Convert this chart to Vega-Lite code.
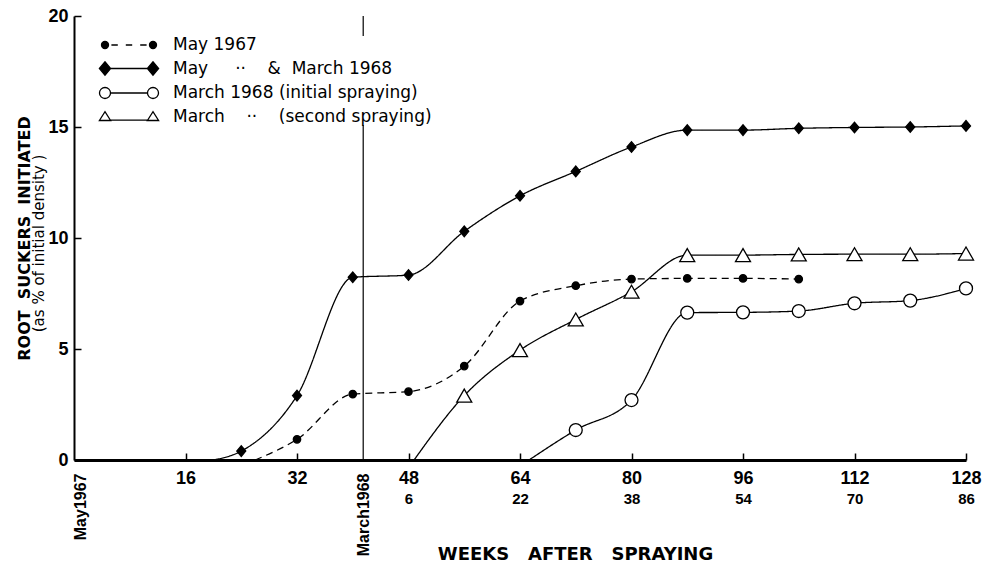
{
  "$schema": "https://vega.github.io/schema/vega-lite/v6.json",
  "width": 892,
  "height": 444,
  "autosize": "none",
  "padding": {"left": 74, "top": 16, "right": 19, "bottom": 106},
  "background": "white",
  "config": {
    "view": {"stroke": null},
    "axis": {"labelFont": "Liberation Sans", "titleFont": "Liberation Sans", "labelColor": "black", "titleColor": "black", "domainColor": "black", "tickColor": "black", "grid": false, "labelFlush": false, "labelOverlap": false},
    "legend": {"orient": "none", "legendX": 46, "legendY": 20, "title": null, "padding": 0, "labelFont": "DejaVu Sans", "labelFontSize": 17, "labelColor": "black", "labelOffset": 35, "labelLimit": 500, "rowPadding": 5.5, "fillColor": "white", "symbolSize": 256, "symbolStrokeWidth": 1.3, "symbolStrokeColor": "black", "symbolOpacity": 1}
  },
  "datasets": {
    "series": [
      {"series": "May 1967", "week": 26, "value": 0, "observed": false},
      {"series": "May 1967", "week": 32, "value": 0.93, "observed": true},
      {"series": "May 1967", "week": 40, "value": 2.97, "observed": true},
      {"series": "May 1967", "week": 48, "value": 3.08, "observed": true},
      {"series": "May 1967", "week": 56, "value": 4.23, "observed": true},
      {"series": "May 1967", "week": 64, "value": 7.16, "observed": true},
      {"series": "May 1967", "week": 72, "value": 7.85, "observed": true},
      {"series": "May 1967", "week": 80, "value": 8.15, "observed": true},
      {"series": "May 1967", "week": 88, "value": 8.18, "observed": true},
      {"series": "May 1967", "week": 96, "value": 8.18, "observed": true},
      {"series": "May 1967", "week": 104, "value": 8.15, "observed": true},
      {"series": "May\u00a0\u00a0\u00a0\u00a0\u00a0··\u00a0\u00a0\u00a0\u00a0&\u00a0\u00a0March 1968", "week": 20, "value": 0, "observed": false},
      {"series": "May\u00a0\u00a0\u00a0\u00a0\u00a0··\u00a0\u00a0\u00a0\u00a0&\u00a0\u00a0March 1968", "week": 24, "value": 0.4, "observed": true},
      {"series": "May\u00a0\u00a0\u00a0\u00a0\u00a0··\u00a0\u00a0\u00a0\u00a0&\u00a0\u00a0March 1968", "week": 32, "value": 2.9, "observed": true},
      {"series": "May\u00a0\u00a0\u00a0\u00a0\u00a0··\u00a0\u00a0\u00a0\u00a0&\u00a0\u00a0March 1968", "week": 40, "value": 8.23, "observed": true},
      {"series": "May\u00a0\u00a0\u00a0\u00a0\u00a0··\u00a0\u00a0\u00a0\u00a0&\u00a0\u00a0March 1968", "week": 48, "value": 8.33, "observed": true},
      {"series": "May\u00a0\u00a0\u00a0\u00a0\u00a0··\u00a0\u00a0\u00a0\u00a0&\u00a0\u00a0March 1968", "week": 56, "value": 10.3, "observed": true},
      {"series": "May\u00a0\u00a0\u00a0\u00a0\u00a0··\u00a0\u00a0\u00a0\u00a0&\u00a0\u00a0March 1968", "week": 64, "value": 11.9, "observed": true},
      {"series": "May\u00a0\u00a0\u00a0\u00a0\u00a0··\u00a0\u00a0\u00a0\u00a0&\u00a0\u00a0March 1968", "week": 72, "value": 13.0, "observed": true},
      {"series": "May\u00a0\u00a0\u00a0\u00a0\u00a0··\u00a0\u00a0\u00a0\u00a0&\u00a0\u00a0March 1968", "week": 80, "value": 14.1, "observed": true},
      {"series": "May\u00a0\u00a0\u00a0\u00a0\u00a0··\u00a0\u00a0\u00a0\u00a0&\u00a0\u00a0March 1968", "week": 88, "value": 14.86, "observed": true},
      {"series": "May\u00a0\u00a0\u00a0\u00a0\u00a0··\u00a0\u00a0\u00a0\u00a0&\u00a0\u00a0March 1968", "week": 96, "value": 14.86, "observed": true},
      {"series": "May\u00a0\u00a0\u00a0\u00a0\u00a0··\u00a0\u00a0\u00a0\u00a0&\u00a0\u00a0March 1968", "week": 104, "value": 14.94, "observed": true},
      {"series": "May\u00a0\u00a0\u00a0\u00a0\u00a0··\u00a0\u00a0\u00a0\u00a0&\u00a0\u00a0March 1968", "week": 112, "value": 14.98, "observed": true},
      {"series": "May\u00a0\u00a0\u00a0\u00a0\u00a0··\u00a0\u00a0\u00a0\u00a0&\u00a0\u00a0March 1968", "week": 120, "value": 15.0, "observed": true},
      {"series": "May\u00a0\u00a0\u00a0\u00a0\u00a0··\u00a0\u00a0\u00a0\u00a0&\u00a0\u00a0March 1968", "week": 128, "value": 15.05, "observed": true},
      {"series": "March 1968 (initial spraying)", "week": 65.3, "value": 0, "observed": false},
      {"series": "March 1968 (initial spraying)", "week": 72, "value": 1.35, "observed": true},
      {"series": "March 1968 (initial spraying)", "week": 80, "value": 2.7, "observed": true},
      {"series": "March 1968 (initial spraying)", "week": 88, "value": 6.64, "observed": true},
      {"series": "March 1968 (initial spraying)", "week": 96, "value": 6.65, "observed": true},
      {"series": "March 1968 (initial spraying)", "week": 104, "value": 6.71, "observed": true},
      {"series": "March 1968 (initial spraying)", "week": 112, "value": 7.06, "observed": true},
      {"series": "March 1968 (initial spraying)", "week": 120, "value": 7.18, "observed": true},
      {"series": "March 1968 (initial spraying)", "week": 128, "value": 7.73, "observed": true},
      {"series": "March\u00a0\u00a0\u00a0\u00a0··\u00a0\u00a0\u00a0\u00a0(second spraying)", "week": 48.8, "value": 0, "observed": false},
      {"series": "March\u00a0\u00a0\u00a0\u00a0··\u00a0\u00a0\u00a0\u00a0(second spraying)", "week": 56, "value": 2.9, "observed": true},
      {"series": "March\u00a0\u00a0\u00a0\u00a0··\u00a0\u00a0\u00a0\u00a0(second spraying)", "week": 64, "value": 4.95, "observed": true},
      {"series": "March\u00a0\u00a0\u00a0\u00a0··\u00a0\u00a0\u00a0\u00a0(second spraying)", "week": 72, "value": 6.33, "observed": true},
      {"series": "March\u00a0\u00a0\u00a0\u00a0··\u00a0\u00a0\u00a0\u00a0(second spraying)", "week": 80, "value": 7.58, "observed": true},
      {"series": "March\u00a0\u00a0\u00a0\u00a0··\u00a0\u00a0\u00a0\u00a0(second spraying)", "week": 88, "value": 9.23, "observed": true},
      {"series": "March\u00a0\u00a0\u00a0\u00a0··\u00a0\u00a0\u00a0\u00a0(second spraying)", "week": 96, "value": 9.23, "observed": true},
      {"series": "March\u00a0\u00a0\u00a0\u00a0··\u00a0\u00a0\u00a0\u00a0(second spraying)", "week": 104, "value": 9.26, "observed": true},
      {"series": "March\u00a0\u00a0\u00a0\u00a0··\u00a0\u00a0\u00a0\u00a0(second spraying)", "week": 112, "value": 9.27, "observed": true},
      {"series": "March\u00a0\u00a0\u00a0\u00a0··\u00a0\u00a0\u00a0\u00a0(second spraying)", "week": 120, "value": 9.27, "observed": true},
      {"series": "March\u00a0\u00a0\u00a0\u00a0··\u00a0\u00a0\u00a0\u00a0(second spraying)", "week": 128, "value": 9.3, "observed": true}
    ],
    "events": [
      {"event": "May1967", "week": 0},
      {"event": "March1968", "week": 41.5}
    ]
  },
  "layer": [
    {
      "data": {"name": "events"},
      "transform": [{"filter": "datum.week > 0"}],
      "mark": {"type": "rule", "stroke": "black", "strokeWidth": 1.2},
      "encoding": {
        "x": {
          "field": "week", "type": "quantitative",
          "scale": {"domain": [0, 128], "nice": false, "zero": false},
          "axis": {
            "orient": "bottom",
            "values": [0, 41.5],
            "labelExpr": "datum.value == 0 ? 'May1967' : 'March1968'",
            "labelAngle": -90, "labelAlign": "right", "labelBaseline": "middle",
            "labelPadding": 13, "labelFontSize": 16, "labelFontWeight": "bold",
            "labelOffset": {"condition": {"test": "datum.value == 0", "value": 6}, "value": 0},
            "ticks": false, "domain": false, "title": null
          }
        }
      }
    },
    {
      "data": {"name": "series"},
      "mark": {"type": "line", "interpolate": "monotone", "stroke": "black"},
      "encoding": {
        "x": {
          "field": "week", "type": "quantitative",
          "axis": {
            "orient": "bottom",
            "values": [16, 32, 48, 64, 80, 96, 112, 128],
            "tickSize": -7, "tickWidth": 1.5, "domainWidth": 3,
            "labelPadding": 16, "labelFontSize": 18, "labelFontWeight": "bold",
            "title": null
          }
        },
        "y": {
          "field": "value", "type": "quantitative",
          "scale": {"domain": [0, 20], "nice": false},
          "axis": {
            "orient": "left",
            "values": [0, 5, 10, 15, 20],
            "tickSize": -7, "tickWidth": 1.5, "domainWidth": 2,
            "labelPadding": 13, "labelFontSize": 18, "labelFontWeight": "bold",
            "title": "ROOT\u00a0\u00a0SUCKERS\u00a0\u00a0INITIATED",
            "titleFont": "DejaVu Sans", "titleFontSize": 16, "titleFontWeight": "bold",
            "titleX": -45, "titleY": 222, "titleBaseline": "alphabetic", "titleAngle": -90
          }
        },
        "strokeDash": {
          "field": "series", "type": "nominal",
          "scale": {"domain": ["May 1967", "May\u00a0\u00a0\u00a0\u00a0\u00a0··\u00a0\u00a0\u00a0\u00a0&\u00a0\u00a0March 1968", "March 1968 (initial spraying)", "March\u00a0\u00a0\u00a0\u00a0··\u00a0\u00a0\u00a0\u00a0(second spraying)"], "range": [[7, 5], [1, 0], [1, 0], [1, 0]]},
          "legend": null
        },
        "strokeWidth": {
          "field": "series", "type": "nominal",
          "scale": {"domain": ["May 1967", "May\u00a0\u00a0\u00a0\u00a0\u00a0··\u00a0\u00a0\u00a0\u00a0&\u00a0\u00a0March 1968", "March 1968 (initial spraying)", "March\u00a0\u00a0\u00a0\u00a0··\u00a0\u00a0\u00a0\u00a0(second spraying)"], "range": [1.3, 1.3, 1.6, 2]},
          "legend": null
        }
      }
    },
    {
      "data": {"name": "series"},
      "transform": [{"filter": "datum.observed"}],
      "mark": {"type": "point", "stroke": "black", "strokeWidth": 1.3, "opacity": 1},
      "encoding": {
        "x": {
          "field": "week", "type": "quantitative",
          "axis": {
            "orient": "bottom",
            "values": [48, 64, 80, 96, 112, 128],
            "labelExpr": "'' + (datum.value - 42)",
            "ticks": false, "domain": false,
            "labelPadding": 31, "labelFontSize": 15, "labelFontWeight": "bold",
            "title": "WEEKS\u00a0\u00a0\u00a0AFTER\u00a0\u00a0\u00a0SPRAYING",
            "titleFont": "DejaVu Sans", "titleFontSize": 18, "titleFontWeight": "bold",
            "titleX": 501, "titleY": 99, "titleBaseline": "alphabetic"
          }
        },
        "y": {
          "field": "value", "type": "quantitative",
          "axis": {
            "orient": "left",
            "labels": false, "ticks": false, "domain": false,
            "title": "(as % of initial density\u00a0)",
            "titleFont": "DejaVu Sans", "titleFontSize": 15, "titleFontWeight": "normal",
            "titleX": -31, "titleY": 227, "titleBaseline": "alphabetic", "titleAngle": -90
          }
        },
        "shape": {
          "field": "series", "type": "nominal",
          "scale": {"domain": ["May 1967", "May\u00a0\u00a0\u00a0\u00a0\u00a0··\u00a0\u00a0\u00a0\u00a0&\u00a0\u00a0March 1968", "March 1968 (initial spraying)", "March\u00a0\u00a0\u00a0\u00a0··\u00a0\u00a0\u00a0\u00a0(second spraying)"], "range": ["circle", "M-0.85,0L0,-1L0.85,0L0,1Z", "circle", "triangle-up"]},
          "legend": null
        },
        "fill": {
          "field": "series", "type": "nominal",
          "scale": {"domain": ["May 1967", "May\u00a0\u00a0\u00a0\u00a0\u00a0··\u00a0\u00a0\u00a0\u00a0&\u00a0\u00a0March 1968", "March 1968 (initial spraying)", "March\u00a0\u00a0\u00a0\u00a0··\u00a0\u00a0\u00a0\u00a0(second spraying)"], "range": ["black", "black", "white", "white"]},
          "legend": null
        },
        "size": {
          "field": "series", "type": "nominal",
          "scale": {"domain": ["May 1967", "May\u00a0\u00a0\u00a0\u00a0\u00a0··\u00a0\u00a0\u00a0\u00a0&\u00a0\u00a0March 1968", "March 1968 (initial spraying)", "March\u00a0\u00a0\u00a0\u00a0··\u00a0\u00a0\u00a0\u00a0(second spraying)"], "range": [55, 225, 120, 144]},
          "legend": null
        }
      }
    },
    {
      "data": {"name": "series"},
      "transform": [{"filter": "datum.observed"}],
      "mark": {"type": "point", "filled": true, "strokeWidth": 1.3, "size": 256, "opacity": 0},
      "encoding": {
        "x": {"field": "week", "type": "quantitative", "axis": null},
        "y": {"field": "value", "type": "quantitative", "axis": null},
        "shape": {
          "field": "series", "type": "nominal",
          "scale": {"domain": ["May 1967", "May\u00a0\u00a0\u00a0\u00a0\u00a0··\u00a0\u00a0\u00a0\u00a0&\u00a0\u00a0March 1968", "March 1968 (initial spraying)", "March\u00a0\u00a0\u00a0\u00a0··\u00a0\u00a0\u00a0\u00a0(second spraying)"], "range": ["M-3.44,0A0.44,0.44 0 1,1 -2.56,0A0.44,0.44 0 1,1 -3.44,0Z M2.56,0A0.44,0.44 0 1,1 3.44,0A0.44,0.44 0 1,1 2.56,0Z M-2.2,0L-1.4,0 M-0.4,0L0.4,0 M1.4,0L2.2,0", "M-3.7,0L-3,-0.85L-2.3,0L-3,0.85Z M2.3,0L3,-0.85L3.7,0L3,0.85Z M-2.3,0L2.3,0", "M-3.69,0A0.69,0.69 0 1,1 -2.31,0A0.69,0.69 0 1,1 -3.69,0Z M2.31,0A0.69,0.69 0 1,1 3.69,0A0.69,0.69 0 1,1 2.31,0Z M-2.31,0L2.31,0", "M-3.7,0.5L-3,-0.6L-2.3,0.5Z M2.3,0.5L3,-0.6L3.7,0.5Z M-2.3,0.45L2.3,0.45"]},
          "legend": {"symbolOpacity": 1}
        },
        "fill": {
          "field": "series", "type": "nominal",
          "scale": {"domain": ["May 1967", "May\u00a0\u00a0\u00a0\u00a0\u00a0··\u00a0\u00a0\u00a0\u00a0&\u00a0\u00a0March 1968", "March 1968 (initial spraying)", "March\u00a0\u00a0\u00a0\u00a0··\u00a0\u00a0\u00a0\u00a0(second spraying)"], "range": ["black", "black", "white", "white"]},
          "legend": {"symbolOpacity": 1}
        },
        "stroke": {
          "field": "series", "type": "nominal",
          "scale": {"domain": ["May 1967", "May\u00a0\u00a0\u00a0\u00a0\u00a0··\u00a0\u00a0\u00a0\u00a0&\u00a0\u00a0March 1968", "March 1968 (initial spraying)", "March\u00a0\u00a0\u00a0\u00a0··\u00a0\u00a0\u00a0\u00a0(second spraying)"], "range": ["black", "black", "black", "black"]},
          "legend": {"symbolOpacity": 1}
        }
      }
    }
  ],
  "resolve": {"axis": {"x": "independent", "y": "independent"}, "scale": {"shape": "independent", "fill": "independent", "stroke": "independent"}}
}
